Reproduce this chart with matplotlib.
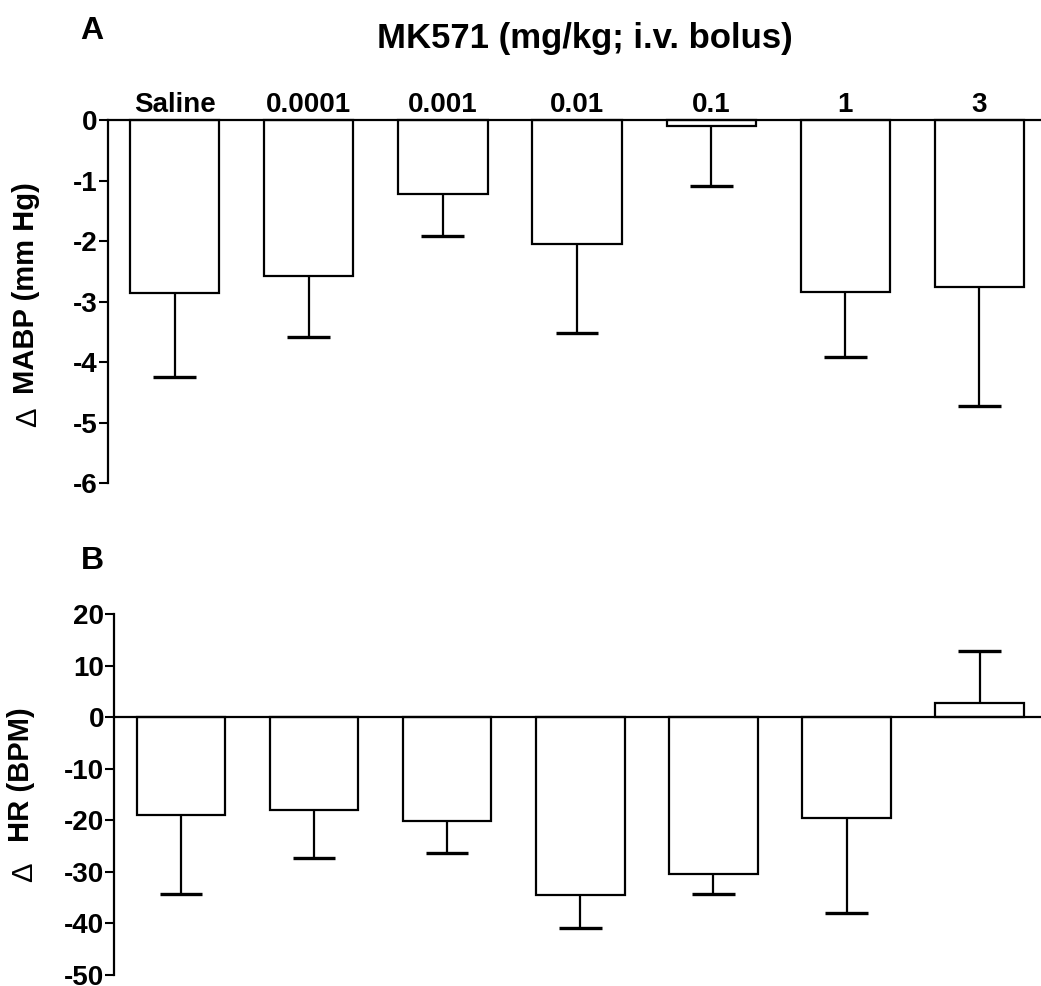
import numpy as np
import matplotlib
matplotlib.use("Agg")
from matplotlib import pyplot as plt

plt.rcParams['font.family'] = ['Liberation Sans', 'DejaVu Sans']
plt.rcParams['font.weight'] = 'bold'
plt.rcParams['axes.unicode_minus'] = False

# doses of MK571 (mg/kg; i.v. bolus)
doses = ['Saline', '0.0001', '0.001', '0.01', '0.1', '1', '3']

# panel A: change in MABP (mm Hg), mean and SEM
mabp_mean = [-2.86, -2.57, -1.22, -2.05, -0.09, -2.84, -2.76]
mabp_sem = [1.38, 1.01, 0.70, 1.47, 0.99, 1.08, 1.96]

# panel B: change in HR (BPM), mean and SEM
hr_mean = [-19.0, -18.1, -20.2, -34.5, -30.4, -19.6, 2.65]
hr_sem = [15.2, 9.2, 6.2, 6.4, 3.8, 18.3, 10.15]

W, H = 1041, 986


def px(l, t, r, b):
    # pixel box -> figure fraction
    return [l / W, 1 - b / H, (r - l) / W, (b - t) / H]


def barpanel(ax, means, sems, ylim, ticks):
    means = np.array(means)
    sems = np.array(sems)
    x = np.arange(len(means))
    # one-sided SEM, pointing away from zero
    tips = means + np.sign(means) * sems
    ax.bar(x, means, width=0.665, color='white', edgecolor='black',
           linewidth=1.6, clip_on=False, zorder=3)
    ax.vlines(x, means, tips, color='black', lw=1.6, zorder=2)
    ax.hlines(tips, x - 0.16, x + 0.16, color='black', lw=2.4, zorder=2)
    ax.axhline(0, color='black', lw=1.6, clip_on=False, zorder=4)
    ax.set_xlim(-0.5, 6.46)
    ax.set_ylim(*ylim)
    ax.set_yticks(ticks)
    ax.set_xticks([])
    for s in ['top', 'right', 'bottom']:
        ax.spines[s].set_visible(False)
    ax.spines['left'].set_linewidth(1.6)
    ax.spines['left'].set_bounds(ylim[0], ylim[1])
    ax.tick_params(axis='y', length=6.5, width=1.5, labelsize=20, pad=1)
    for lab in ax.get_yticklabels():
        lab.set_fontweight('bold')
    return x


fig = plt.figure(figsize=(W / 100, H / 100), dpi=100)

axA = fig.add_axes(px(107.7, 120.3, 1041, 483.3))
xA = barpanel(axA, mabp_mean, mabp_sem, (-6, 0), np.arange(-6, 1, 1))
for i, d in zip(xA, doses):
    axA.annotate(d, xy=(i, 0), xytext=(0, 6), textcoords='offset points',
                 ha='center', va='baseline', fontsize=20, fontweight='bold')

axB = fig.add_axes(px(114.3, 614, 1041, 975))
barpanel(axB, hr_mean, hr_sem, (-50, 20), np.arange(-50, 21, 10))

fig.text(585 / W, 1 - 48 / H, 'MK571 (mg/kg; i.v. bolus)', ha='center',
         va='baseline', fontsize=25, fontweight='bold')
fig.text(80 / W, 1 - 39 / H, 'A', ha='left', va='baseline', fontsize=23, fontweight='bold')
fig.text(81 / W, 1 - 569 / H, 'B', ha='left', va='baseline', fontsize=23, fontweight='bold')

# y labels with a thin delta sign
fig.text(26 / W, 1 - 288 / H, 'MABP (mm Hg)', rotation=90, ha='center', va='center',
         fontsize=21, fontweight='bold')
fig.text(28 / W, 1 - 417 / H, '\u0394', rotation=90, ha='center', va='center',
         fontsize=21, fontweight='normal')
fig.text(21 / W, 1 - 775 / H, 'HR (BPM)', rotation=90, ha='center', va='center',
         fontsize=21, fontweight='bold')
fig.text(24 / W, 1 - 872 / H, '\u0394', rotation=90, ha='center', va='center',
         fontsize=21, fontweight='normal')

fig.savefig('out.png', dpi=100)
